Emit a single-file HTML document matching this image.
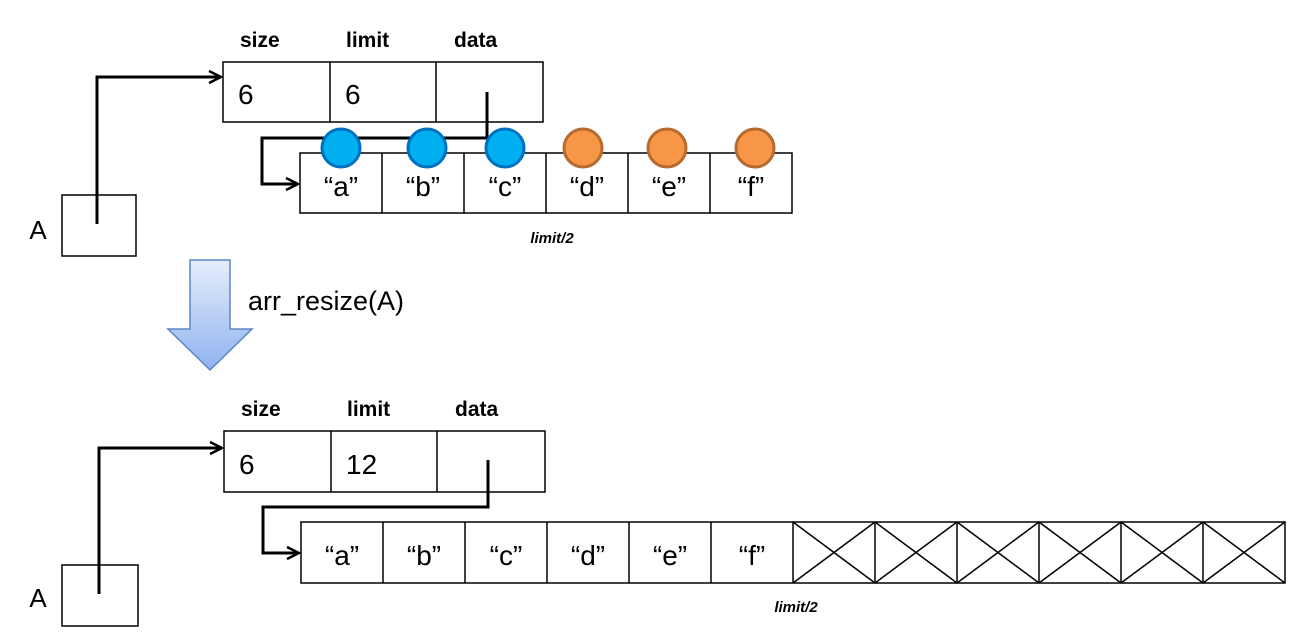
<!DOCTYPE html>
<html><head><meta charset="utf-8"><style>
html,body{margin:0;padding:0;background:#fff}
svg{display:block}
text{font-family:"Liberation Sans",sans-serif;fill:#000}
</style></head><body>
<svg width="1297" height="638" viewBox="0 0 1297 638">
<defs>
<linearGradient id="ag" x1="0" y1="0" x2="0" y2="1"><stop offset="0" stop-color="#e6eefc"/><stop offset="1" stop-color="#8fb2ee"/></linearGradient>
<marker id="ah" viewBox="0 0 10 10" refX="9" refY="5" markerWidth="5" markerHeight="5" orient="auto"><path d="M1,1 L9,5 L1,9" fill="none" stroke="#000" stroke-width="1.6"/></marker>
</defs>
<g>
 <text x="38" y="239" font-size="26" text-anchor="middle">A</text>
 <rect x="62" y="195" width="74" height="61" fill="#fff" stroke="#000" stroke-width="1.5"/>
 <path d="M97,224 V77 H221" fill="none" stroke="#000" stroke-width="3" marker-end="url(#ah)"/>
 <g font-size="21" font-weight="bold">
  <text x="240" y="47">size</text><text x="346" y="47">limit</text><text x="454" y="47">data</text>
 </g>
 <rect x="223" y="62" width="320" height="60" fill="#fff" stroke="#000" stroke-width="1.5"/>
 <line x1="330" y1="62" x2="330" y2="122" stroke="#000" stroke-width="1.5"/>
 <line x1="436" y1="62" x2="436" y2="122" stroke="#000" stroke-width="1.5"/>
 <text x="238" y="104" font-size="28">6</text>
 <text x="345" y="104" font-size="28">6</text>
 <g>
  <rect x="300" y="153" width="492" height="60" fill="#fff" stroke="#000" stroke-width="1.5"/>
  <line x1="382" y1="153" x2="382" y2="213" stroke="#000" stroke-width="1.5"/>
  <line x1="464" y1="153" x2="464" y2="213" stroke="#000" stroke-width="1.5"/>
  <line x1="546" y1="153" x2="546" y2="213" stroke="#000" stroke-width="1.5"/>
  <line x1="628" y1="153" x2="628" y2="213" stroke="#000" stroke-width="1.5"/>
  <line x1="710" y1="153" x2="710" y2="213" stroke="#000" stroke-width="1.5"/>
  <g font-size="28" text-anchor="middle">
   <text x="341" y="196">“a”</text><text x="423" y="196">“b”</text><text x="505" y="196">“c”</text>
   <text x="587" y="196">“d”</text><text x="669" y="196">“e”</text><text x="751" y="196">“f”</text>
  </g>
 </g>
 <path d="M487,92 V138 H262 V184 H298" fill="none" stroke="#000" stroke-width="3" marker-end="url(#ah)"/>
 <g stroke-width="3">
  <circle cx="341" cy="148" r="19" fill="#00b0f0" stroke="#0070c0"/>
  <circle cx="427" cy="148" r="19" fill="#00b0f0" stroke="#0070c0"/>
  <circle cx="505" cy="148" r="19" fill="#00b0f0" stroke="#0070c0"/>
  <circle cx="583" cy="148" r="19" fill="#f79646" stroke="#b86b30"/>
  <circle cx="667" cy="148" r="19" fill="#f79646" stroke="#b86b30"/>
  <circle cx="755" cy="148" r="19" fill="#f79646" stroke="#b86b30"/>
 </g>
 <text x="552" y="243" font-size="15" font-weight="bold" font-style="italic" text-anchor="middle">limit/2</text>
</g>
<g>
 <path d="M190,260 H230 V329 H252 L210,370 L168,329 H190 Z" fill="url(#ag)" stroke="#5b86c6" stroke-width="1.5"/>
 <text x="248" y="310" font-size="27">arr_resize(A)</text>
</g>
<g>
 <text x="38" y="607" font-size="26" text-anchor="middle">A</text>
 <rect x="62" y="565" width="76" height="61" fill="#fff" stroke="#000" stroke-width="1.5"/>
 <path d="M99,594 V448 H222" fill="none" stroke="#000" stroke-width="3" marker-end="url(#ah)"/>
 <g font-size="21" font-weight="bold">
  <text x="241" y="416">size</text><text x="347" y="416">limit</text><text x="455" y="416">data</text>
 </g>
 <rect x="224" y="431" width="321" height="61" fill="#fff" stroke="#000" stroke-width="1.5"/>
 <line x1="331" y1="431" x2="331" y2="492" stroke="#000" stroke-width="1.5"/>
 <line x1="437" y1="431" x2="437" y2="492" stroke="#000" stroke-width="1.5"/>
 <text x="239" y="474" font-size="28">6</text>
 <text x="346" y="474" font-size="28">12</text>
 <rect x="301" y="522" width="984" height="61" fill="#fff" stroke="#000" stroke-width="1.5"/>
 <g stroke="#000" stroke-width="1.5">
  <line x1="383" y1="522" x2="383" y2="583"/><line x1="465" y1="522" x2="465" y2="583"/>
  <line x1="547" y1="522" x2="547" y2="583"/><line x1="629" y1="522" x2="629" y2="583"/>
  <line x1="711" y1="522" x2="711" y2="583"/><line x1="793" y1="522" x2="793" y2="583"/>
  <line x1="875" y1="522" x2="875" y2="583"/><line x1="957" y1="522" x2="957" y2="583"/>
  <line x1="1039" y1="522" x2="1039" y2="583"/><line x1="1121" y1="522" x2="1121" y2="583"/>
  <line x1="1203" y1="522" x2="1203" y2="583"/>
  <path d="M793,522 L875,583 M875,522 L793,583 M875,522 L957,583 M957,522 L875,583 M957,522 L1039,583 M1039,522 L957,583 M1039,522 L1121,583 M1121,522 L1039,583 M1121,522 L1203,583 M1203,522 L1121,583 M1203,522 L1285,583 M1285,522 L1203,583" fill="none"/>
 </g>
 <g font-size="28" text-anchor="middle">
  <text x="342" y="565">“a”</text><text x="424" y="565">“b”</text><text x="506" y="565">“c”</text>
  <text x="588" y="565">“d”</text><text x="670" y="565">“e”</text><text x="752" y="565">“f”</text>
 </g>
 <path d="M488,460 V507 H263 V553 H299" fill="none" stroke="#000" stroke-width="3" marker-end="url(#ah)"/>
 <text x="796" y="612" font-size="15" font-weight="bold" font-style="italic" text-anchor="middle">limit/2</text>
</g>
</svg>
</body></html>
